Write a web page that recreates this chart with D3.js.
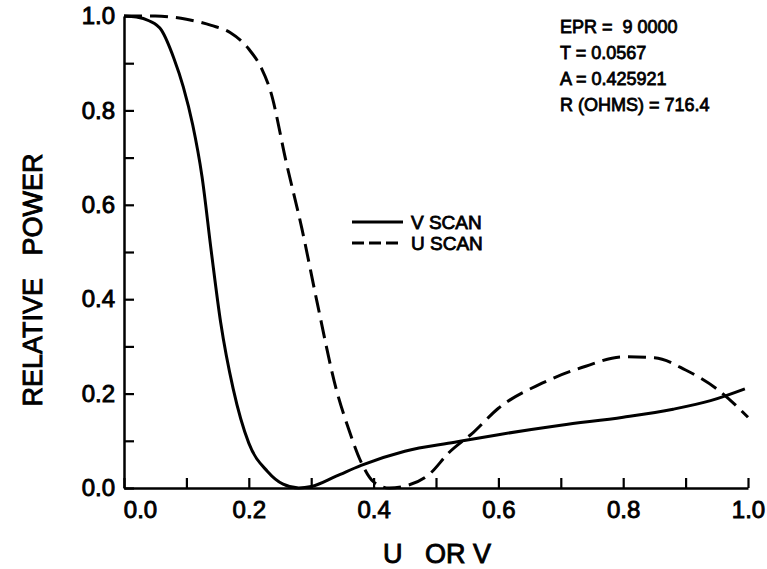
<!DOCTYPE html>
<html>
<head>
<meta charset="utf-8">
<script src="https://cdn.jsdelivr.net/npm/d3@7"></script>
<style>
  body { margin: 0; background: #fff; }
  svg text { font-family: "Liberation Sans", Arial, sans-serif; fill: #000; }
</style>
</head>
<body>
<div id="chart"></div>
<script>
// V scan (solid)
const vScanX = [0, 0.02, 0.04, 0.06, 0.08, 0.095, 0.11, 0.125, 0.14, 0.155, 0.175, 0.2, 0.23, 0.255, 0.28, 0.3, 0.34, 0.38, 0.45, 0.53, 0.6, 0.7, 0.8, 0.88, 0.94, 0.995];
const vScanY = [1.0, 0.998, 0.99, 0.97, 0.91, 0.85, 0.77, 0.66, 0.50, 0.35, 0.21, 0.095, 0.035, 0.008, 0.0, 0.003, 0.025, 0.048, 0.078, 0.097, 0.113, 0.133, 0.15, 0.167, 0.185, 0.21];

// U scan (dashed)
const uScanX = [0, 0.05, 0.1, 0.14, 0.17, 0.2, 0.22, 0.235, 0.26, 0.285, 0.31, 0.34, 0.36, 0.38, 0.40, 0.425, 0.45, 0.49, 0.52, 0.56, 0.6, 0.67, 0.74, 0.8, 0.85, 0.9, 0.95, 1.0];
const uScanY = [1.0, 1.0, 0.993, 0.98, 0.965, 0.93, 0.89, 0.84, 0.69, 0.55, 0.39, 0.21, 0.125, 0.055, 0.013, 0.0, 0.004, 0.03, 0.074, 0.118, 0.169, 0.222, 0.258, 0.278, 0.276, 0.25, 0.21, 0.15];

const tickValues = [0, 0.1, 0.2, 0.3, 0.4, 0.5, 0.6, 0.7, 0.8, 0.9, 1.0];
const annotations = ["EPR =  9 0000", "T = 0.0567", "A = 0.425921", "R (OHMS) = 716.4"];

const width = 767, height = 569;

const svg = d3.select("#chart")
    .append("svg")
    .attr("width", width)
    .attr("height", height);

const xScale = d3.scaleLinear().domain([0, 1]).range([124, 748]);
const yScale = d3.scaleLinear().domain([0, 1]).range([488, 16]);

const labelFmt = d => (Math.round(d * 10) % 2 === 0) ? d.toFixed(1) : "";

// medium-ish weight: regular face with a thin outline
function ink(sel, w) {
    sel.attr("stroke", "#000").attr("stroke-width", w).attr("paint-order", "stroke");
}

// Axes (ticks point inward)
const xAxis = svg.append("g")
    .attr("transform", `translate(0,${yScale(0)})`)
    .call(d3.axisBottom(xScale).tickValues(tickValues).tickSizeInner(-10).tickSizeOuter(0).tickPadding(13).tickFormat(labelFmt));

const yAxis = svg.append("g")
    .attr("transform", `translate(${xScale(0)},0)`)
    .call(d3.axisLeft(yScale).tickValues(tickValues).tickSizeInner(-10).tickSizeOuter(0).tickPadding(9).tickFormat(labelFmt));

[xAxis, yAxis].forEach(ax => {
    ax.select(".domain").attr("stroke", "#000").attr("stroke-width", 2.5);
    ax.selectAll(".tick line").attr("stroke", "#000").attr("stroke-width", 2.2);
    ax.selectAll(".tick text")
        .attr("font-size", "24px")
        .style("font-family", "'Liberation Sans', Arial, sans-serif")
        .call(ink, 0.9);
});

// first x label sits right of the corner
xAxis.selectAll(".tick text").filter(d => d === 0).attr("dx", 16);

// Curves
const line = d3.line()
    .x(d => xScale(d[0]))
    .y(d => yScale(d[1]))
    .curve(d3.curveMonotoneX);

svg.append("path")
    .datum(vScanX.map((x, i) => [x, vScanY[i]]))
    .attr("d", line)
    .attr("fill", "none")
    .attr("stroke", "#000")
    .attr("stroke-width", 3);

svg.append("path")
    .datum(uScanX.map((x, i) => [x, uScanY[i]]))
    .attr("d", line)
    .attr("fill", "none")
    .attr("stroke", "#000")
    .attr("stroke-width", 3)
    .attr("stroke-dasharray", "18,8");

// Axis titles
svg.append("text")
    .attr("transform", "rotate(-90)")
    .attr("x", -280)
    .attr("y", 42)
    .attr("text-anchor", "middle")
    .attr("font-size", "27px")
    .style("white-space", "pre")
    .call(ink, 0.9)
    .text("RELATIVE   POWER");

svg.append("text")
    .attr("x", 437)
    .attr("y", 563)
    .attr("text-anchor", "middle")
    .attr("font-size", "27px")
    .style("white-space", "pre")
    .call(ink, 0.9)
    .text("U   OR V");

// Legend
const legend = [
    { label: "V SCAN", dash: null, y: 222 },
    { label: "U SCAN", dash: "12,5", y: 243 }
];
legend.forEach(l => {
    svg.append("line")
        .attr("x1", 352).attr("x2", 403)
        .attr("y1", l.y).attr("y2", l.y)
        .attr("stroke", "#000")
        .attr("stroke-width", 3)
        .attr("stroke-dasharray", l.dash);
    svg.append("text")
        .attr("x", 411)
        .attr("y", l.y + 7)
        .attr("font-size", "19px")
        .call(ink, 0.8)
        .text(l.label);
});

// Parameter block
svg.append("g")
    .selectAll("text")
    .data(annotations)
    .enter()
    .append("text")
    .attr("x", 560)
    .attr("y", (d, i) => 33 + i * 26)
    .attr("font-size", "18px")
    .style("white-space", "pre")
    .call(ink, 0.8)
    .text(d => d);
</script>
</body>
</html>
